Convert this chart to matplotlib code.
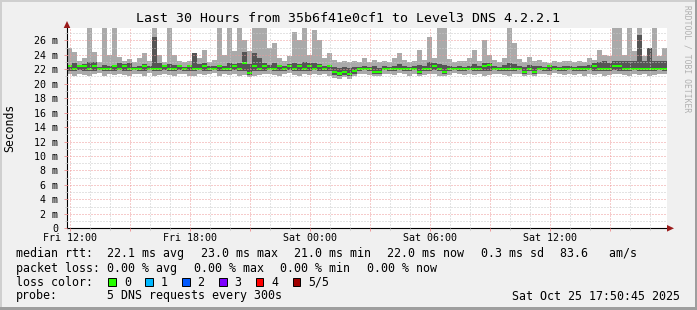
import numpy as np
import matplotlib
matplotlib.use("Agg")
import matplotlib.pyplot as plt
from matplotlib.patches import Rectangle, Polygon

# ---- donnees (lues sur le graphique, pas de 15 min, 120 pas) ----
# heures depuis ven. 12:00 ; fenetre = 30 h se terminant sam. 17:50:45
start_h = -(9 + 15 / 60) / 60
step_h = 0.25

# mediane (ms)
median_ms = [
    22.4, 22.0, 22.5, 22.4, 22.0, 22.5, 22.0, 22.0, 22.0, 22.4,
    22.0, 22.5, 22.0, 22.0, 22.0, 22.4, 22.0, 22.0, 22.0, 22.5,
    22.0, 22.0, 22.4, 22.0, 22.4, 22.0, 22.0, 22.5, 22.0, 22.0,
    22.4, 22.0, 22.0, 22.5, 22.0, 22.9, 21.5, 22.4, 22.0, 22.5,
    22.0, 22.0, 22.4, 22.0, 22.5, 22.0, 22.4, 22.0, 22.5, 22.0,
    22.4, 22.0, 22.4, 21.6, 21.4, 21.6, 21.3, 21.7, 22.0, 22.0,
    22.0, 21.6, 21.6, 22.0, 22.0, 22.0, 22.0, 22.0, 22.0, 22.0,
    21.6, 22.0, 22.0, 22.5, 22.0, 21.6, 22.0, 22.0, 22.0, 22.0,
    22.0, 22.0, 22.0, 22.5, 22.6, 22.0, 22.0, 22.0, 22.0, 22.0,
    22.0, 21.6, 22.0, 21.6, 22.0, 22.0, 22.4, 22.0, 22.0, 22.0,
    22.0, 22.0, 22.0, 22.0, 22.0, 22.4, 22.0, 22.0, 22.0, 22.5,
    22.5, 22.0, 22.0, 22.0, 22.0, 22.0, 22.0, 22.0, 22.0, 22.0,
]

# fumee : ping le plus rapide, 2e, 4e, le plus lent (ms)
ping_min = [
    21.3, 21.1, 21.4, 21.2, 21.0, 21.3, 21.5, 21.1, 21.3, 21.2,
    21.4, 21.2, 21.0, 21.4, 21.3, 21.1, 21.5, 21.0, 21.2, 21.4,
    21.2, 21.0, 21.4, 21.3, 21.1, 21.0, 21.4, 21.2, 21.3, 21.5,
    21.1, 21.3, 21.2, 21.4, 21.0, 21.2, 20.9, 21.0, 21.2, 21.3,
    21.4, 21.2, 21.0, 21.3, 21.5, 21.2, 21.0, 21.3, 21.2, 21.4,
    21.2, 21.3, 21.1, 20.8, 20.7, 20.9, 20.7, 21.0, 21.3, 21.4,
    21.2, 21.0, 21.0, 21.4, 21.3, 21.2, 21.5, 21.3, 21.1, 21.4,
    21.0, 21.2, 21.3, 21.4, 21.1, 21.0, 21.2, 21.5, 21.3, 21.2,
    21.4, 21.2, 21.3, 21.0, 21.2, 21.4, 21.3, 21.2, 21.0, 21.3,
    21.4, 21.0, 21.2, 21.0, 21.4, 21.3, 21.2, 21.5, 21.3, 21.2,
    21.4, 21.2, 21.3, 21.1, 21.4, 21.2, 21.3, 21.0, 21.2, 21.4,
    21.3, 21.2, 21.0, 21.4, 21.2, 21.3, 21.1, 21.2, 21.4, 21.3,
]
ping_2nd = [
    21.8, 21.7, 21.9, 21.8, 21.7, 21.8, 21.9, 21.7, 21.8, 21.8,
    21.9, 21.8, 21.7, 21.9, 21.8, 21.8, 21.9, 21.7, 21.8, 21.9,
    21.8, 21.7, 21.9, 21.8, 21.8, 21.7, 21.9, 21.8, 21.8, 21.9,
    21.7, 21.8, 21.8, 21.9, 21.7, 21.8, 21.2, 21.7, 21.8, 21.8,
    21.9, 21.8, 21.7, 21.8, 21.9, 21.8, 21.7, 21.8, 21.8, 21.9,
    21.8, 21.8, 21.7, 21.2, 21.0, 21.2, 21.0, 21.4, 21.8, 21.9,
    21.8, 21.3, 21.3, 21.9, 21.8, 21.8, 21.9, 21.8, 21.7, 21.9,
    21.3, 21.8, 21.8, 21.9, 21.7, 21.3, 21.8, 21.9, 21.8, 21.8,
    21.9, 21.8, 21.8, 21.7, 21.8, 21.9, 21.8, 21.8, 21.7, 21.8,
    21.9, 21.3, 21.8, 21.3, 21.9, 21.8, 21.8, 21.9, 21.8, 21.8,
    21.9, 21.8, 21.8, 21.7, 21.9, 21.8, 21.8, 21.7, 21.8, 21.9,
    21.8, 21.8, 21.7, 21.9, 21.8, 21.8, 21.7, 21.8, 21.9, 21.8,
]
ping_4th = [
    22.6, 22.8, 22.4, 22.7, 23.0, 23.0, 22.3, 22.6, 22.4, 22.6,
    22.8, 22.7, 22.8, 22.3, 22.5, 22.7, 22.4, 26.5, 22.8, 22.4,
    22.7, 22.6, 22.6, 22.3, 22.6, 24.2, 22.7, 22.8, 22.4, 22.5,
    22.6, 22.5, 22.8, 22.7, 22.9, 24.4, 22.7, 24.2, 23.5, 22.8,
    22.6, 22.9, 22.6, 22.4, 22.7, 22.8, 22.7, 23.0, 22.8, 22.8,
    22.7, 22.4, 22.6, 22.3, 22.2, 22.3, 22.2, 22.3, 22.3, 22.4,
    22.3, 22.4, 22.2, 22.4, 22.3, 22.5, 22.7, 22.4, 22.3, 22.4,
    22.6, 22.4, 23.0, 22.8, 22.7, 22.6, 22.5, 22.3, 22.4, 22.3,
    22.5, 22.7, 22.4, 22.8, 22.9, 22.5, 22.3, 22.6, 22.8, 22.7,
    22.4, 22.3, 22.6, 22.4, 22.5, 22.3, 22.6, 22.4, 22.3, 22.4,
    22.4, 22.3, 22.4, 22.5, 22.6, 22.8, 23.0, 23.1, 22.8, 23.1,
    23.1, 23.2, 23.2, 23.1, 26.7, 23.1, 24.9, 23.2, 23.1, 23.2,
]
ping_max = [
    24.9, 24.4, 23.2, 23.5, 30.0, 24.4, 23.0, 30.0, 24.0, 30.0,
    23.7, 23.1, 23.4, 23.0, 23.5, 24.3, 23.2, 30.0, 24.0, 23.0,
    30.0, 23.9, 23.1, 23.0, 23.2, 24.3, 23.5, 24.6, 23.0, 23.3,
    30.0, 24.0, 30.0, 24.5, 30.0, 26.0, 24.5, 30.0, 30.0, 30.0,
    25.0, 25.6, 23.5, 23.2, 23.8, 27.2, 26.0, 30.0, 24.0, 27.4,
    26.0, 23.5, 24.3, 23.3, 23.0, 23.2, 23.0, 23.1, 23.0, 23.5,
    23.0, 23.3, 23.0, 23.1, 23.0, 23.6, 24.2, 23.3, 23.0, 23.2,
    24.7, 23.3, 26.5, 23.5, 30.0, 30.0, 23.4, 23.0, 23.2, 23.1,
    23.5, 24.6, 23.2, 26.0, 24.0, 23.3, 23.0, 23.5, 30.0, 25.6,
    23.4, 23.0, 23.7, 23.1, 23.3, 23.0, 22.9, 23.1, 23.0, 23.2,
    23.1, 23.0, 23.2, 23.0, 23.5, 23.3, 24.6, 24.0, 23.8, 30.0,
    30.0, 24.0, 30.0, 24.5, 30.0, 23.8, 24.9, 30.0, 23.8, 24.9,
]

x_major = [0, 3, 6, 9, 12, 15, 18, 21, 24, 27]
x_labels = ["Fri 12:00", "", "Fri 18:00", "", "Sat 00:00", "", "Sat 06:00", "", "Sat 12:00", ""]
y_major = list(range(0, 27, 2))
y_labels = ["0"] + [f"{v} m" for v in y_major[1:]]

rtt_stats = ["22.1 ms avg", "23.0 ms max", "21.0 ms min", "22.0 ms now", "0.3 ms sd", "83.6   am/s"]
loss_stats = ["0.00 % avg", "0.00 % max", "0.00 % min", "0.00 % now"]
loss_labels = ["0", "1", "2", "3", "4", "5/5"]
loss_colors = ["#26ff00", "#00b8ff", "#0059ff", "#7e00ff", "#ff0000", "#a00000"]

# ---- figure ----
W, H = 697, 310
MONO = "DejaVu Sans Mono"


def fx(x):
    return x / W


def fy(y):
    return 1 - y / H


fig = plt.figure(figsize=(W / 100, H / 100), dpi=100, facecolor="#f0f0f0")

# bordure facon rrdtool
fig.patches.append(Rectangle((0, fy(2)), 1, 2 / H, transform=fig.transFigure, color="#cfcfcf", lw=0))
fig.patches.append(Rectangle((0, 0), 2 / W, 1, transform=fig.transFigure, color="#cfcfcf", lw=0))
fig.patches.append(Rectangle((0, 0), 1, 3 / H, transform=fig.transFigure, color="#9e9e9e", lw=0))
fig.patches.append(Rectangle((fx(695), 0), 2 / W, 1, transform=fig.transFigure, color="#9e9e9e", lw=0))

ax = fig.add_axes([fx(67), fy(228.3), 600 / W, 200.3 / H])
ax.set_facecolor("white")

n = len(median_ms)
edges = start_h + step_h * np.arange(n + 1)


def st(a):
    a = np.asarray(a, dtype=float)
    return np.append(a, a[-1])


ax.fill_between(edges, st(ping_min), st(ping_max), step="post", color="#aaaaaa", lw=0)
ax.fill_between(edges, st(ping_2nd), st(ping_4th), step="post", color="#555555", lw=0)
ax.fill_between(edges, st(median_ms) - 0.15, st(median_ms) + 0.15, step="post", color="#26ff00", lw=0)

ax.set_xlim(start_h, start_h + 30)
ax.set_ylim(0, 27.7)

ax.set_xticks(x_major)
ax.set_xticklabels(x_labels)
ax.set_xticks(np.arange(0, 30, 1), minor=True)
ax.set_yticks(y_major)
ax.set_yticklabels(y_labels)
ax.set_yticks(np.arange(1, 28, 2), minor=True)

ax.grid(which="major", color="#ee9999", linestyle=(0, (1, 2)), lw=0.72)
ax.grid(which="minor", color="#c8c8c8", linestyle=(0, (1, 2)), lw=0.72)
ax.set_axisbelow(False)

ax.tick_params(which="major", length=2.2, width=0.72, color="#ee9999", labelsize=7.2)
ax.tick_params(which="minor", length=1.5, width=0.72, color="#c8c8c8")
ax.tick_params(axis="x", which="major", pad=1.5)
ax.tick_params(axis="y", which="major", pad=4)
for lab in ax.get_xticklabels() + ax.get_yticklabels():
    lab.set_family(MONO)
    lab.set_fontsize(7.2)

for s in ["top", "right"]:
    ax.spines[s].set_visible(False)
for s in ["left", "bottom"]:
    ax.spines[s].set_color("black")
    ax.spines[s].set_linewidth(0.8)

# fleches des axes
arrow_col = "#9b1c1c"
fig.patches.append(Polygon([(fx(667), fy(225)), (fx(674), fy(228.3)), (fx(667), fy(231.6))],
                           closed=True, transform=fig.transFigure, color=arrow_col, lw=0))
fig.patches.append(Polygon([(fx(63.7), fy(28)), (fx(67), fy(21)), (fx(70.3), fy(28))],
                           closed=True, transform=fig.transFigure, color=arrow_col, lw=0))

# titre, label y, filigrane
fig.text(fx(348), fy(19), "Last 30 Hours from 35b6f41e0cf1 to Level3 DNS 4.2.2.1",
         ha="center", va="center", family=MONO, fontsize=9.5)
fig.text(fx(10), fy(128), "Seconds", rotation=90, ha="center", va="center",
         family=MONO, fontsize=8.3)
fig.text(fx(687), fy(59), "RRDTOOL / TOBI OETIKER", rotation=270, ha="center", va="center",
         family=MONO, fontsize=5.8, color="#b0b0b0")

# legende
cw = 6.97
gap = 16.7
fs = 8.35
rows_y = [253.3, 268.3, 282.0, 296.0]
fig.text(fx(16), fy(rows_y[0]), "median rtt:", family=MONO, fontsize=fs, va="center")
fig.text(fx(16), fy(rows_y[1]), "packet loss:", family=MONO, fontsize=fs, va="center")
fig.text(fx(16), fy(rows_y[2]), "loss color:", family=MONO, fontsize=fs, va="center")
fig.text(fx(16), fy(rows_y[3]), "probe:", family=MONO, fontsize=fs, va="center")

x = 107.3
for item in rtt_stats:
    fig.text(fx(x), fy(rows_y[0]), item, family=MONO, fontsize=fs, va="center")
    x += len(item) * cw + gap
x = 107.3
for item in loss_stats:
    fig.text(fx(x), fy(rows_y[1]), item, family=MONO, fontsize=fs, va="center")
    x += len(item) * cw + gap

for i, (lab, col) in enumerate(zip(loss_labels, loss_colors)):
    bx = 108.3 + 36.9 * i
    fig.patches.append(Rectangle((fx(bx), fy(285.5)), 7.5 / W, 7.5 / H, transform=fig.transFigure,
                                 facecolor=col, edgecolor="black", lw=0.7))
    fig.text(fx(bx + 15.5), fy(rows_y[2]), lab, family=MONO, fontsize=fs, va="center")

fig.text(fx(107.3), fy(rows_y[3]), "5 DNS requests every 300s", family=MONO, fontsize=fs, va="center")
fig.text(fx(680), fy(rows_y[3]), "Sat Oct 25 17:50:45 2025", family=MONO, fontsize=fs,
         va="center", ha="right")

fig.savefig("out.png", dpi=100, facecolor=fig.get_facecolor())
